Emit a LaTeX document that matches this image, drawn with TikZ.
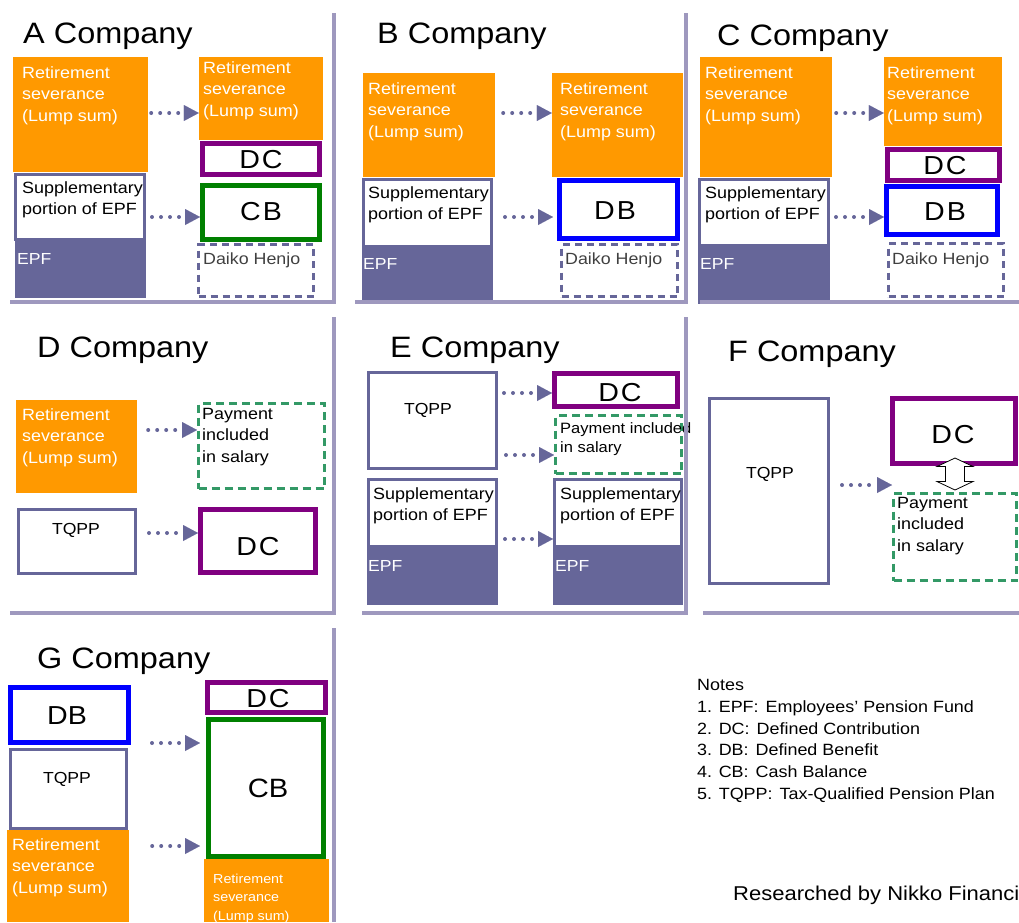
\documentclass[tikz,border=0pt]{standalone}
\usepackage{fontspec}
\setmainfont[FakeStretch=1.1]{Liberation Sans}
\usetikzlibrary{arrows.meta,fit}
\definecolor{orng}{HTML}{FF9900}
\definecolor{slate}{HTML}{666699}
\definecolor{divc}{HTML}{9E98BE}
\definecolor{purp}{HTML}{800080}
\definecolor{grn}{HTML}{008000}
\definecolor{blu}{HTML}{0000FF}
\definecolor{dgrn}{HTML}{339966}
\definecolor{dgray}{HTML}{404040}
\newcommand\myfs[2]{\fontsize{#1}{#2}\selectfont}
\newcommand\DCtxt{D\kern2pt C}
\begin{document}
\begin{tikzpicture}[x=1pt,y=-1pt,
  orbox/.style={fill=orng,inner sep=0pt},
  epfbox/.style={fill=slate,inner sep=0pt},
  slbox/.style={draw=slate,line width=3pt,fill=white,inner sep=0pt},
  dcbox/.style={draw=purp,line width=5pt,fill=white,inner sep=0pt},
  cbbox/.style={draw=grn,line width=5pt,fill=white,inner sep=0pt},
  dbbox/.style={draw=blu,line width=5pt,fill=white,inner sep=0pt},
  dhbox/.style={draw=slate,line width=3pt,dash pattern=on 7pt off 5pt,inner sep=0pt},
  paybox/.style={draw=dgrn,line width=3pt,dash pattern=on 8pt off 5pt,inner sep=0pt},
  wt/.style={text=white,align=left,anchor=north west,inner sep=0pt,font=\myfs{16.3}{21.8}},
  wts/.style={text=white,align=left,anchor=north west,inner sep=0pt,font=\myfs{13}{18.5}},
  bt/.style={text=black,align=left,anchor=north west,inner sep=0pt,font=\myfs{16.3}{21.5}},
  bts/.style={text=black,align=left,anchor=north west,inner sep=0pt,font=\myfs{15}{19}},
  epft/.style={text=white,anchor=base west,inner sep=0pt,font=\myfs{16}{20}},
  dht/.style={text=dgray,anchor=base west,inner sep=0pt,font=\myfs{16.2}{20}},
  tqt/.style={text=black,anchor=base,inner sep=0pt,font=\myfs{16}{20}},
  bigt/.style={text=black,anchor=center,inner sep=0pt,font=\myfs{26}{30}},
  ttl/.style={text=black,anchor=base west,inner sep=0pt,font=\myfs{29.5}{34}},
  divl/.style={draw=divc,line width=4pt},
  dotarr/.style={draw=slate,line width=4pt,line cap=round,dash pattern=on 0pt off 9pt,
     -{Triangle[length=15pt,width=16pt,line width=0.01pt]}},
  hollow/.style={draw=black,fill=white,line width=0.8pt,line join=miter}
]
\useasboundingbox (0,0) rectangle (1019,922);
\clip (0,0) rectangle (1019,922);

% ---------------- A Company
\node[ttl] (tA) at (23,43) {A Company};
\node[orbox,fit={(13,57) (148,172)}] (a1) {};
\node[wt] (ta1) at (22,66) {Retirement\\severance\\(Lump sum)};
\node[slbox,fit={(15.5,174.5) (144.5,239.5)}] (a3) {};
\node[bt] (ta3) at (22,181) {Supplementary\\portion of EPF};
\node[epfbox,fit={(15,241) (146,298)}] (a4) {};
\node[epft] (ta4) at (17,264) {EPF};
\node[orbox,fit={(199,57) (323,140)}] (a2) {};
\node[wt] (ta2) at (203,61) {Retirement\\severance\\(Lump sum)};
\node[dcbox,fit={(202.5,143.5) (319.5,174.5)}] (a5) {};
\node[bigt] (ta5) at (261,160) {\DCtxt};
\node[cbbox,fit={(202.5,185.5) (319.5,239.5)}] (a6) {};
\node[bigt] (ta6) at (261,212) {C\kern2pt B};
\node[dhbox,fit={(198.5,244.5) (313.5,296.5)}] (a7) {};
\node[dht] (ta7) at (203,264) {Daiko Henjo};
\draw[dotarr,shorten <=3pt] (a1.east |- 0,113) -- (a2.west |- 0,113);
\draw[dotarr,shorten <=6pt] (a3.east |- 0,217) -- (a6.west |- 0,217);

% ---------------- B Company
\node[ttl] (tB) at (377,43) {B Company};
\node[orbox,fit={(363,73) (495,177)}] (b1) {};
\node[wt] (tb1) at (368,82) {Retirement\\severance\\(Lump sum)};
\node[slbox,fit={(363.5,179.5) (491.5,246.5)}] (b3) {};
\node[bt] (tb3) at (368,186) {Supplementary\\portion of EPF};
\node[epfbox,fit={(362,248) (493,303)}] (b4) {};
\node[epft] (tb4) at (363,269) {EPF};
\node[orbox,fit={(552,73) (683,177)}] (b2) {};
\node[wt] (tb2) at (560,82) {Retirement\\severance\\(Lump sum)};
\node[dbbox,fit={(559.5,180.5) (677.5,238.5)}] (b5) {};
\node[bigt] (tb5) at (615,211) {D\kern2pt B};
\node[dhbox,fit={(561.5,244.5) (677.5,296.5)}] (b6) {};
\node[dht] (tb6) at (565,264) {Daiko Henjo};
\draw[dotarr,shorten <=8pt] (b1.east |- 0,113) -- (b2.west |- 0,113);
\draw[dotarr,shorten <=12pt,shorten >=4pt] (b3.east |- 0,217) -- (b5.west |- 0,217);

% ---------------- C Company
\node[ttl] (tC) at (717,45) {C Company};
\node[orbox,fit={(700,57) (832,177)}] (c1) {};
\node[wt] (tc1) at (705,66) {Retirement\\severance\\(Lump sum)};
\node[slbox,fit={(699.5,179.5) (828.5,245.5)}] (c3) {};
\node[bt] (tc3) at (705,186) {Supplementary\\portion of EPF};
\node[epfbox,fit={(698,247) (830,304)}] (c4) {};
\node[epft] (tc4) at (700,269) {EPF};
\node[orbox,fit={(884,57) (1002,146)}] (c2) {};
\node[wt] (tc2) at (887,66) {Retirement\\severance\\(Lump sum)};
\node[dcbox,fit={(887.5,149.5) (999.5,180.5)}] (c5) {};
\node[bigt] (tc5) at (945,166) {\DCtxt};
\node[dbbox,fit={(886.5,186.5) (997.5,234.5)}] (c6) {};
\node[bigt] (tc6) at (945,212) {D\kern2pt B};
\node[dhbox,fit={(888.5,243.5) (1003.5,296.5)}] (c7) {};
\node[dht] (tc7) at (892,264) {Daiko Henjo};
\draw[dotarr,shorten <=4pt] (c1.east |- 0,113) -- (c2.west |- 0,113);
\draw[dotarr,shorten <=6pt] (c3.east |- 0,217) -- (c6.west |- 0,217);

% ---------------- D Company
\node[ttl] (tD) at (37,357) {D Company};
\node[orbox,fit={(16,400) (137,493)}] (d1) {};
\node[wt] (td1) at (22,408) {Retirement\\severance\\(Lump sum)};
\node[paybox,fit={(198.5,403.5) (324.5,488.5)}] (d2) {};
\node[bt] (td2) at (202,408) {Payment\\included\\in salary};
\node[slbox,fit={(18.5,509.5) (135.5,573.5)}] (d3) {};
\node[tqt] (td3) at (76,534) {TQPP};
\node[dcbox,fit={(200.5,509.5) (315.5,572.5)}] (d4) {};
\node[bigt] (td4) at (258,547) {\DCtxt};
\draw[dotarr,shorten <=11pt] (d1.east |- 0,430) -- (d2.west |- 0,430);
\draw[dotarr,shorten <=12pt] (d3.east |- 0,533) -- (d4.west |- 0,533);

% ---------------- E Company
\node[ttl] (tE) at (390,357) {E Company};
\node[slbox,fit={(368.5,372.5) (496.5,468.5)}] (e1) {};
\node[tqt] (te1) at (428,414) {TQPP};
\node[dcbox,fit={(554.5,373.5) (677.5,406.5)}] (e2) {};
\node[bigt] (te2) at (620,393) {\DCtxt};
\node[paybox,fit={(555.5,415.5) (681.5,473.5)}] (e3) {};
\node[bts] (te3) at (560,422.5) {Payment included\\in salary};
\node[slbox,fit={(368.5,479.5) (496.5,546.5)}] (e4) {};
\node[bt] (te4) at (373,487) {Supplementary\\portion of EPF};
\node[epfbox,fit={(367,548) (498,605)}] (e5) {};
\node[epft] (te5) at (368,571) {EPF};
\node[slbox,fit={(554.5,479.5) (681.5,546.5)}] (e6) {};
\node[bt] (te6) at (560,487) {Supplementary\\portion of EPF};
\node[epfbox,fit={(553,548) (683,605)}] (e7) {};
\node[epft] (te7) at (555,571) {EPF};
\draw[dotarr,shorten <=6pt] (e1.east |- 0,393) -- (e2.west |- 0,393);
\draw[dotarr,shorten <=8pt] (e1.east |- 0,455) -- (e3.west |- 0,455);
\draw[dotarr,shorten <=7pt] (e4.east |- 0,539) -- (e6.west |- 0,539);

% ---------------- F Company
\node[ttl] (tF) at (728,361) {F Company};
\node[slbox,fit={(709.5,398.5) (828.5,583.5)}] (f1) {};
\node[tqt] (tf1) at (770,478) {TQPP};
\node[dcbox,fit={(892.5,398.5) (1015.5,463.5)}] (f2) {};
\node[bigt] (tf2) at (953,435) {\DCtxt};
\node[paybox,fit={(893.5,493.5) (1016.5,580.5)}] (f3) {};
\node[bt] (tf3) at (897,497) {Payment\\included\\in salary};
% hollow double arrow between DC and payment
\coordinate (fda) at (955,474);
\draw[hollow] (fda) ++(0,-16) -- ++(18,8.5) -- ++(-8.5,0) -- ++(0,15) -- ++(8.5,0)
   -- ++(-18,8.5) -- ++(-18,-8.5) -- ++(8.5,0) -- ++(0,-15) -- ++(-8.5,0) -- cycle;
\draw[dotarr,shorten <=12pt] (f1.east |- 0,485) -- (f3.west |- 0,485);

% ---------------- G Company
\node[ttl] (tG) at (37,668) {G Company};
\node[dbbox,fit={(10.5,687.5) (128.5,742.5)}] (g1) {};
\node[text=black,anchor=center,inner sep=0pt,font=\myfs{26}{30}] (tg1) at (67,716) {DB};
\node[slbox,fit={(10.5,749.5) (126.5,828.5)}] (g2) {};
\node[tqt] (tg2) at (67,783) {TQPP};
\node[orbox,fit={(7,830) (129,922)}] (g3) {};
\node[wt] (tg3) at (12,838) {Retirement\\severance\\(Lump sum)};
\node[dcbox,fit={(207.5,682.5) (325.5,712.5)}] (g4) {};
\node[bigt] (tg4) at (268,699) {\DCtxt};
\node[cbbox,fit={(208.5,719.5) (323.5,856.5)}] (g5) {};
\node[text=black,anchor=center,inner sep=0pt,font=\myfs{26.5}{30}] (tg5) at (268,788) {CB};
\node[orbox,fit={(204,859) (329,922)}] (g6) {};
\node[wts] (tg6) at (213,873.5) {Retirement\\severance\\(Lump sum)};
\draw[dotarr,shorten <=21pt,shorten >=6pt] (g1.east |- 0,743) -- (g5.west |- 0,743);
\draw[dotarr,shorten <=23pt,shorten >=6pt] (g3.east |- 0,846) -- (g5.west |- 0,846);

% ---------------- Notes
\node[text=black,align=left,anchor=north west,inner sep=0pt,font=\myfs{16.3}{21.8}] (notes) at (697,679)
 {Notes\\
  1. EPF:\kern7pt Employees’ Pension Fund\\
  2. DC:\kern7pt Defined Contribution\\
  3. DB:\kern7pt Defined Benefit\\
  4. CB:\kern7pt Cash Balance\\
  5. TQPP:\kern7pt Tax-Qualified Pension Plan};
\node[text=black,anchor=base west,inner sep=0pt,font=\myfs{20}{24}] (src) at (733,900.5) {Researched by Nikko Financial};

% ---------------- panel dividers
\draw[divl] (10,302) -- (334,302) -- (334,13);
\draw[divl] (355,302) -- (686,302) -- (686,13);
\draw[divl] (700,302) -- (1019,302);
\draw[divl] (10,613) -- (334,613) -- (334,317);
\draw[divl] (362,613) -- (686,613) -- (686,317);
\draw[divl] (703,613) -- (1019,613);
\draw[divl] (334,628) -- (334,922);
\end{tikzpicture}
\end{document}
